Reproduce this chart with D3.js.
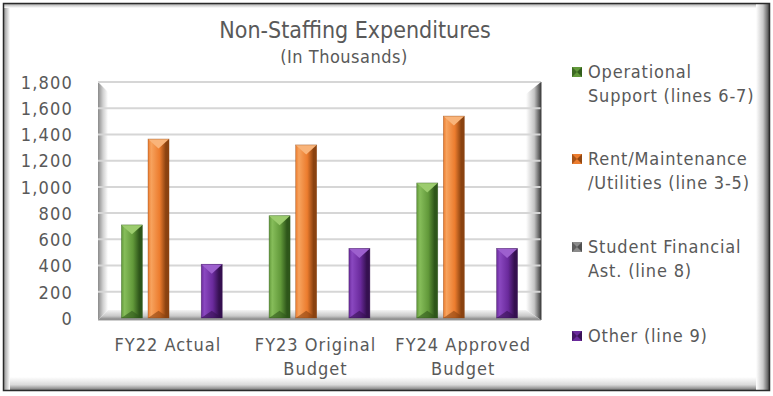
<!DOCTYPE html>
<html><head><meta charset="utf-8">
<script src="https://cdn.jsdelivr.net/npm/d3@7/dist/d3.min.js"></script>
<style>html,body{margin:0;padding:0;background:#fff;}svg{display:block;}</style>
</head><body>
<svg id="c" width="773" height="396"></svg>
<script>
const categories = [["FY22 Actual"], ["FY23 Original", "Budget"], ["FY24 Approved", "Budget"]];
const seriesNames = ["Operational Support (lines 6-7)", "Rent/Maintenance /Utilities (line 3-5)", "Student Financial Ast. (line 8)", "Other (line 9)"];
const legendLines = [["Operational", "Support (lines 6-7)"], ["Rent/Maintenance", "/Utilities (line 3-5)"], ["Student Financial", "Ast. (line 8)"], ["Other (line 9)"]];
const operational = [710, 780, 1030];
const rent = [1365, 1320, 1540];
const student = [0, 0, 0];
const other = [410, 530, 530];
const yTicks = [0, 200, 400, 600, 800, 1000, 1200, 1400, 1600, 1800];
const colors = [
  {light:"#86bd5a", mid:"#62993a", dark:"#2e561a", cap:"#9ccc6e"},
  {light:"#f7a35e", mid:"#ec7c2e", dark:"#8a4210", cap:"#f9b47a"},
  {light:"#b8b8b8", mid:"#8c8c8c", dark:"#4a4a4a", cap:"#c8c8c8"},
  {light:"#8a48c0", mid:"#6a2a9c", dark:"#351050", cap:"#9d60ce"}
];
const seriesVals = [operational, rent, student, other];

const svg = d3.select("#c");
const defs = svg.append("defs");
const font = "'Liberation Sans Narrow', 'DejaVu Sans Condensed', 'Liberation Sans', sans-serif";
const textColor = "#595959";

function lin(id, x1,y1,x2,y2, stops){
  const g = defs.append("linearGradient").attr("id",id).attr("x1",x1).attr("y1",y1).attr("x2",x2).attr("y2",y2);
  stops.forEach(s=>g.append("stop").attr("offset",s[0]).attr("stop-color",s[1]));
}
lin("frR",0,0,1,0,[[0,"#ffffff"],[0.5,"#c8c8c8"],[1,"#3a3a3a"]]);
lin("frB",0,0,0,1,[[0,"#ffffff"],[0.6,"#dadada"],[1,"#7a7a7a"]]);
lin("frL",0,0,1,0,[[0,"#9a9a9a"],[1,"#ffffff"]]);
lin("frT",0,0,0,1,[[0,"#b0b0b0"],[1,"#ffffff"]]);
lin("wL",0,0,1,0,[[0,"#8a8a8a"],[0.5,"#d0d0d0"],[1,"#ffffff"]]);
lin("wR",0,0,1,0,[[0,"#ffffff"],[0.55,"#c4c4c4"],[1,"#3c3c3c"]]);
lin("wB",0,0,0,1,[[0,"#f4f4f4"],[0.6,"#c8c8c8"],[1,"#7a7a7a"]]);
colors.forEach((c,i)=>{
  lin("bar"+i,0,0,1,0,[[0,c.mid],[0.15,c.light],[0.55,c.mid],[0.85,c.dark],[1,c.dark]]);
});

svg.append("rect").attr("x",3).attr("y",3).attr("width",767).attr("height",388).attr("fill","#fff");
svg.append("rect").attr("x",4).attr("y",4).attr("width",6).attr("height",386).attr("fill","url(#frL)");
svg.append("rect").attr("x",4).attr("y",4).attr("width",765).attr("height",4).attr("fill","url(#frT)");
svg.append("rect").attr("x",10).attr("y",377).attr("width",749).attr("height",13).attr("fill","url(#frB)");
svg.append("rect").attr("x",756).attr("y",4).attr("width",14).attr("height",386).attr("fill","url(#frR)");
svg.append("rect").attr("x",3.5).attr("y",3.5).attr("width",766).attr("height",387).attr("fill","none").attr("stroke","#2a2a2a").attr("stroke-width",1.5);

svg.append("text").attr("x",355).attr("y",38).attr("text-anchor","middle").attr("font-family",font)
  .attr("font-size",23).attr("fill",textColor).text("Non-Staffing Expenditures");
svg.append("text").attr("x",344).attr("y",63).attr("text-anchor","middle").attr("font-family",font)
  .attr("font-size",18).attr("letter-spacing",0.5).attr("fill",textColor).text("(In Thousands)");

const plotL=98, plotR=541, plotT=82, plotB=318;
const x0 = d3.scaleBand().domain(categories.map(d=>d.join(" "))).range([plotL,plotR]).padding(0);
const x1 = d3.scaleBand().domain(seriesNames).range([0,x0.bandwidth()]).paddingInner(0.21).paddingOuter(0.88);
const y = d3.scaleLinear().domain([0,1800]).range([plotB,plotT]);

const g = svg.append("g");
g.append("rect").attr("x",plotL).attr("y",plotT).attr("width",plotR-plotL).attr("height",plotB-plotT+2).attr("fill","#fff");
g.append("path").attr("d",`M${plotL},${plotT} L${plotL+10},${plotT+10} L${plotL+10},${plotB-8} L${plotL},${plotB+2} Z`).attr("fill","url(#wL)");
g.append("path").attr("d",`M${plotR},${plotT} L${plotR-15},${plotT+12} L${plotR-15},${plotB-8} L${plotR},${plotB+2} Z`).attr("fill","url(#wR)");
g.append("path").attr("d",`M${plotL+10},${plotB-8} L${plotR-15},${plotB-8} L${plotR},${plotB+2} L${plotL},${plotB+2} Z`).attr("fill","url(#wB)");
g.selectAll("line.grid").data(yTicks.filter(t=>t>0)).join("line").attr("class","grid")
  .attr("x1",plotL).attr("x2",plotR).attr("y1",d=>y(d)).attr("y2",d=>y(d))
  .attr("stroke","#d6d6d6").attr("stroke-width",2);
g.append("line").attr("x1",plotL).attr("x2",plotR).attr("y1",plotB+2).attr("y2",plotB+2).attr("stroke","#a0a0a0").attr("stroke-width",1);
g.append("line").attr("x1",plotR).attr("x2",plotR).attr("y1",plotT).attr("y2",plotB+2).attr("stroke","#444").attr("stroke-width",1);

const yAxis = d3.axisLeft(y).tickValues(yTicks).tickSize(0).tickPadding(0).tickFormat(d3.format(","));
const ya = svg.append("g").attr("transform","translate(73,0)").call(yAxis);
ya.select(".domain").remove();
ya.selectAll("text").attr("font-family",font).attr("font-size",18).attr("letter-spacing",1.2).attr("fill",textColor).attr("dy","0.35em");

categories.forEach((cat,ci)=>{
  seriesNames.forEach((s,si)=>{
    const v = seriesVals[si][ci];
    if(!v) return;
    const bx = x0(cat.join(" ")) + x1(s);
    const bw = x1.bandwidth();
    const top = y(v), bot = y(0);
    const c = colors[si];
    const bg = g.append("g");
    bg.append("rect").attr("x",bx).attr("y",top).attr("width",bw).attr("height",bot-top).attr("fill","url(#bar"+si+")");
    bg.append("path").attr("d",`M${bx},${top} L${bx+bw},${top} L${bx+bw/2},${top+bw*0.45} Z`).attr("fill",c.cap);
    bg.append("path").attr("d",`M${bx},${bot} L${bx+bw},${bot} L${bx+bw/2},${bot-bw*0.35} Z`).attr("fill",c.dark).attr("opacity",0.6);
    bg.append("rect").attr("x",bx).attr("y",top).attr("width",bw).attr("height",bot-top).attr("fill","none").attr("stroke",c.dark).attr("stroke-width",0.6).attr("stroke-opacity",0.6);
  });
});

categories.forEach(cat=>{
  const cx = x0(cat.join(" ")) + x0.bandwidth()/2 - 4;
  const t = svg.append("text").attr("x",cx).attr("y",351).attr("text-anchor","middle").attr("font-family",font).attr("font-size",18).attr("letter-spacing",1).attr("fill",textColor);
  cat.forEach((line,li)=>t.append("tspan").attr("x",cx).attr("dy",li?24:0).text(line));
});

const legY = [78, 165, 253, 342];
legendLines.forEach((lines,i)=>{
  const c = colors[i];
  const ly = legY[i];
  svg.append("rect").attr("x",572).attr("y",ly-11).attr("width",10).attr("height",10).attr("fill",c.mid);
  svg.append("path").attr("d",`M572,${ly-11} L577,${ly-6} L572,${ly-1} Z`).attr("fill",c.dark).attr("opacity",0.7);
  svg.append("path").attr("d",`M582,${ly-11} L577,${ly-6} L582,${ly-1} Z`).attr("fill",c.dark).attr("opacity",0.9);
  const t = svg.append("text").attr("x",588).attr("y",ly).attr("font-family",font).attr("font-size",18).attr("letter-spacing",0.8).attr("fill",textColor);
  lines.forEach((line,li)=>t.append("tspan").attr("x",588).attr("dy",li?24:0).text(line));
});
</script>
</body></html>
